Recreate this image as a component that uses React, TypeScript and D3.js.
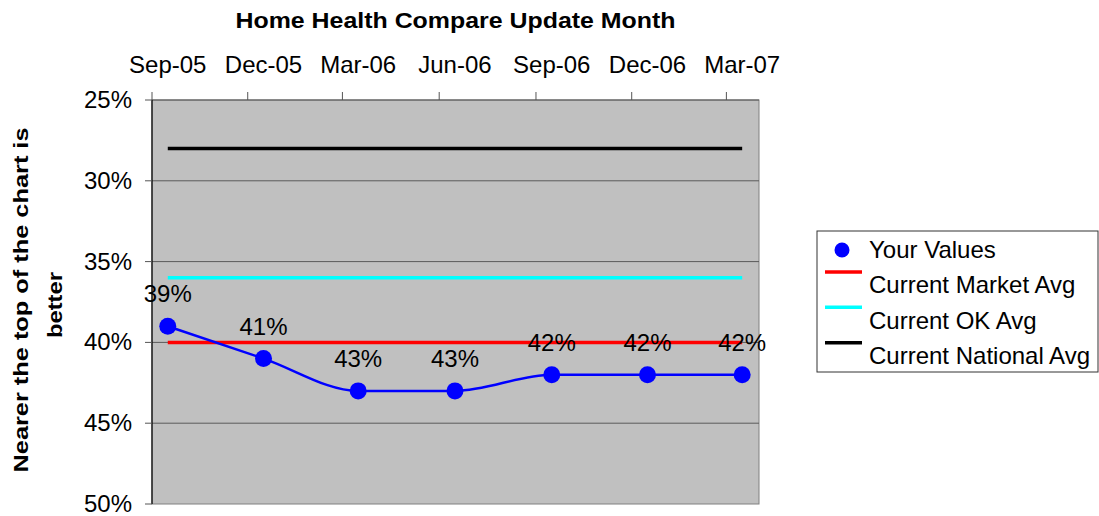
import * as d3 from 'd3';

const pointDates = ['2005-09-16', '2005-12-16', '2006-03-16', '2006-06-16', '2006-09-16', '2006-12-16', '2007-03-16'];
const monthLabels = ['Sep-05', 'Dec-05', 'Mar-06', 'Jun-06', 'Sep-06', 'Dec-06', 'Mar-07'];
const yourValues = [39, 41, 43, 43, 42, 42, 42];
const marketAvg = [40, 40, 40, 40, 40, 40, 40];
const okAvg = [36, 36, 36, 36, 36, 36, 36];
const nationalAvg = [28, 28, 28, 28, 28, 28, 28];
const yTicks = [25, 30, 35, 40, 45, 50];

const WIDTH = 1099;
const HEIGHT = 516;
const FONT = '"Liberation Sans", Arial, sans-serif';

const parse = d3.timeParse('%Y-%m-%d');

export default function App() {
  const dates = pointDates.map((d) => parse(d) as Date);
  const start = parse('2005-09-01') as Date;
  const end = parse('2007-04-01') as Date;

  const x = d3.scaleTime().domain([start, end]).range([152, 759]);
  const y = d3.scaleLinear().domain([25, 50]).range([100, 504]);
  const tickDates = d3.timeMonth.range(start, end, 3);

  const valueLine = d3
    .line<number>()
    .x((_, i) => x(dates[i]))
    .y((d) => y(d))
    .curve(d3.curveMonotoneX);
  const flatLine = d3
    .line<number>()
    .x((_, i) => x(dates[i]))
    .y((d) => y(d));

  const avgSeries = [
    { name: 'Current Market Avg', color: '#ff0000', values: marketAvg },
    { name: 'Current OK Avg', color: '#00ffff', values: okAvg },
    { name: 'Current National Avg', color: '#000000', values: nationalAvg },
  ];

  const [x0, x1] = x.range();
  const [y0, y1] = y.range();

  // legend rows
  const legendX = 817;
  const legendY = 231;
  const rowBase = (i: number) => 258 + i * 35.4;

  return (
    <div style={{ position: 'absolute', left: 0, top: 0 }}>
      <svg width={WIDTH} height={HEIGHT} style={{ display: 'block', fontFamily: FONT }}>
        <rect width={WIDTH} height={HEIGHT} fill="#ffffff" />

        <text x={(x0 + x1) / 2} y={28} textAnchor="middle" fontSize={22} fontWeight="bold" textLength={440} lengthAdjust="spacingAndGlyphs">
          Home Health Compare Update Month
        </text>

        <g transform="translate(0,300) rotate(-90)" fontSize={21} fontWeight="bold" textAnchor="middle">
          <text x={0} y={28} textLength={345} lengthAdjust="spacingAndGlyphs">Nearer the top of the chart is</text>
          <text x={-5} y={62} textLength={66} lengthAdjust="spacingAndGlyphs">better</text>
        </g>

        {/* plot area */}
        <rect x={x0} y={y0} width={x1 - x0} height={y1 - y0} fill="#c0c0c0" stroke="#808080" strokeWidth={1} />
        {yTicks.slice(1, -1).map((t) => (
          <line key={t} x1={x0} x2={x1} y1={y(t)} y2={y(t)} stroke="#5a5a5a" strokeWidth={1} />
        ))}
        <line x1={x0} x2={x1} y1={y0} y2={y0} stroke="#555" strokeWidth={1.2} />
        <line x1={x0} x2={x0} y1={y0} y2={y1} stroke="#000" strokeWidth={1.2} />

        {/* y axis */}
        {yTicks.map((t) => (
          <g key={t}>
            <line x1={x0 - 7} x2={x0} y1={y(t)} y2={y(t)} stroke="#555" strokeWidth={1} />
            <text x={132} y={y(t)} dy="0.33em" textAnchor="end" fontSize={24}>
              {t}%
            </text>
          </g>
        ))}

        {/* x axis (top) */}
        {tickDates.map((d, i) => (
          <line key={i} x1={x(d)} x2={x(d)} y1={y0 - 8} y2={y0} stroke="#555" strokeWidth={1} />
        ))}
        {dates.map((d, i) => (
          <text key={i} x={x(d)} y={73} textAnchor="middle" fontSize={24}>
            {monthLabels[i]}
          </text>
        ))}

        {/* series */}
        {avgSeries.map((s) => (
          <path key={s.name} d={flatLine(s.values) ?? ''} fill="none" stroke={s.color} strokeWidth={3.5} />
        ))}
        <path d={valueLine(yourValues) ?? ''} fill="none" stroke="#0000ff" strokeWidth={2.5} />
        {yourValues.map((v, i) => (
          <circle key={i} cx={x(dates[i])} cy={y(v)} r={8.5} fill="#0000ff" />
        ))}
        {yourValues.map((v, i) => (
          <text key={i} x={x(dates[i])} y={y(v) - 24} textAnchor="middle" fontSize={24}>
            {v}%
          </text>
        ))}

        {/* legend */}
        <rect x={legendX} y={legendY} width={281} height={141} fill="#ffffff" stroke="#333" strokeWidth={1} />
        <circle cx={842} cy={250} r={7.5} fill="#0000ff" />
        <text x={869} y={rowBase(0)} fontSize={24}>
          Your Values
        </text>
        {avgSeries.map((s, i) => (
          <g key={s.name}>
            <line x1={825} x2={862} y1={rowBase(i + 1) - 21.5} y2={rowBase(i + 1) - 21.5} stroke={s.color} strokeWidth={3.5} />
            <text x={869} y={rowBase(i + 1)} fontSize={24}>
              {s.name}
            </text>
          </g>
        ))}
      </svg>
    </div>
  );
}
